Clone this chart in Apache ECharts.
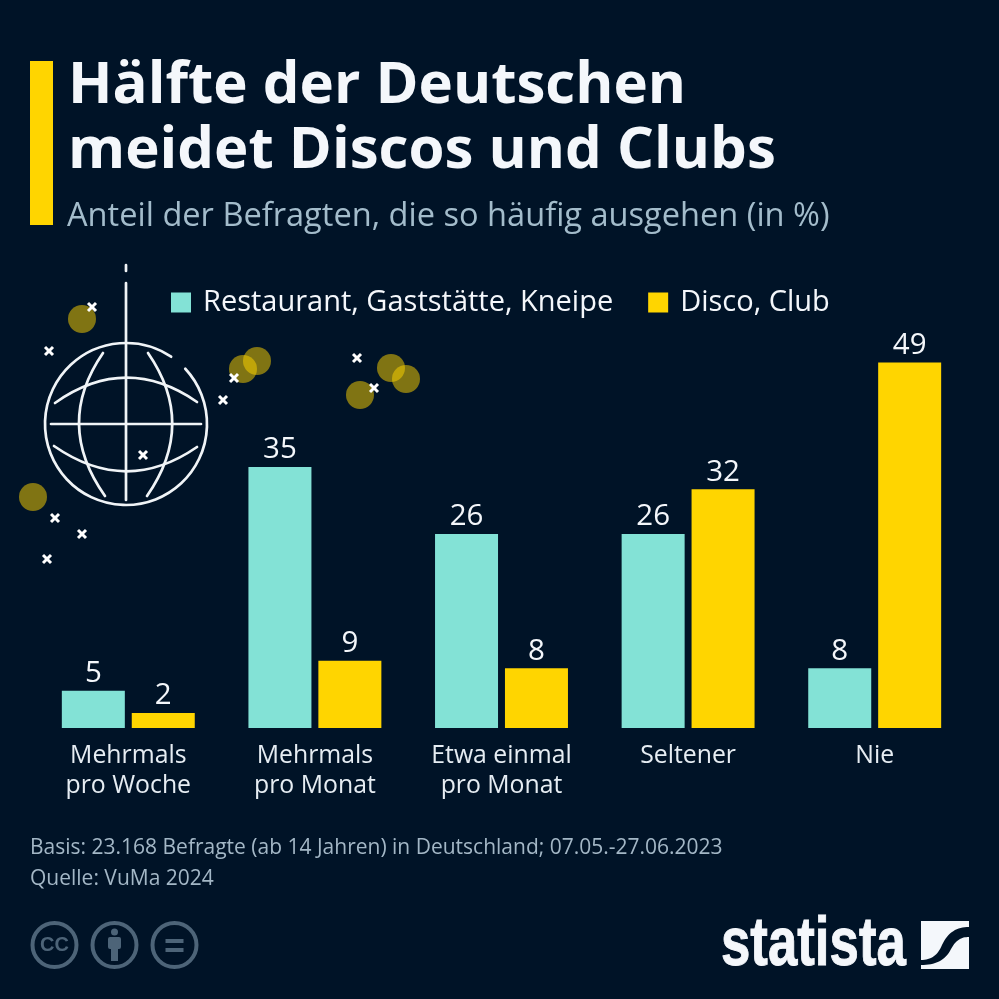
<!DOCTYPE html>
<html>
<head>
<meta charset="utf-8">
<script src="https://cdn.jsdelivr.net/npm/echarts@6/dist/echarts.min.js"></script>
<style>
html, body { margin: 0; padding: 0; background: #001327; }
#chart { width: 999px; height: 999px; }
</style>
</head>
<body>
<div id="chart"></div>
<script>
var categories = ['Mehrmals\npro Woche', 'Mehrmals\npro Monat', 'Etwa einmal\npro Monat', 'Seltener', 'Nie'];
var restaurant = [5, 35, 26, 26, 8];
var disco = [2, 9, 8, 32, 49];

var fontFamily = '"Open Sans", sans-serif';
var bg = '#001327';
var lineColor = '#f0f4f7';
var iconColor = '#4d6478';

// deko: lichtpunkte und sternchen um die discokugel
var glow = [[82, 319], [33, 497], [243, 369], [257, 361], [391, 368], [406, 379], [360, 395]];
var sparks = [[92, 307], [49, 351], [143, 455], [234, 378], [223, 400], [357, 358], [374, 388], [55, 518], [82, 534], [47, 559]];

function text(str, x, y, size, color, weight) {
    return {
        type: 'text', x: x, y: y,
        style: { text: str, fill: color, fontSize: size, fontFamily: fontFamily, fontWeight: weight || 'normal', textVerticalAlign: 'middle' }
    };
}
function stroke(type, shape) {
    return { type: type, shape: shape, style: { stroke: lineColor, lineWidth: 2.7, fill: null, lineCap: 'round' } };
}
// punkte einer kubischen kurve fuers logo
function cubic(p0, p1, p2, p3) {
    var pts = [];
    for (var i = 0; i <= 16; i++) {
        var t = i / 16, u = 1 - t;
        pts.push([
            u * u * u * p0[0] + 3 * u * u * t * p1[0] + 3 * u * t * t * p2[0] + t * t * t * p3[0],
            u * u * u * p0[1] + 3 * u * u * t * p1[1] + 3 * u * t * t * p2[1] + t * t * t * p3[1]
        ]);
    }
    return pts;
}

var graphics = [
    { type: 'rect', shape: { x: 30, y: 61, width: 23, height: 164 }, style: { fill: '#ffd500' } },
    text('Hälfte der Deutschen', 68, 86, 58.2, '#f4f7fb', 'bold'),
    text('meidet Discos und Clubs', 68, 151, 58.2, '#f4f7fb', 'bold'),
    text('Anteil der Befragten, die so häufig ausgehen (in %)', 67, 217, 32.6, '#a3bccb'),
    text('Basis: 23.168 Befragte (ab 14 Jahren) in Deutschland; 07.05.-27.06.2023', 30, 848, 21, '#a3b7c6'),
    text('Quelle: VuMa 2024', 30, 879, 21, '#a3b7c6')
];

glow.forEach(function (p) {
    graphics.push({ type: 'circle', shape: { cx: p[0], cy: p[1], r: 14 }, style: { fill: 'rgba(255,213,0,0.5)' } });
});

// kugel
graphics.push(
    stroke('line', { x1: 126, y1: 265, x2: 126, y2: 271 }),
    stroke('line', { x1: 126, y1: 283, x2: 126, y2: 500 }),
    stroke('line', { x1: 51, y1: 424, x2: 201, y2: 424 }),
    stroke('arc', { cx: 126, cy: 424, r: 81, startAngle: -0.75, endAngle: -0.98, clockwise: true }),
    stroke('bezierCurve', { x1: 55, y1: 403, cpx1: 126, cpy1: 353, x2: 197, y2: 402 }),
    stroke('bezierCurve', { x1: 54, y1: 446, cpx1: 126, cpy1: 496, x2: 197, y2: 447 }),
    stroke('bezierCurve', { x1: 103, y1: 353, cpx1: 54, cpy1: 424, x2: 105, y2: 496 }),
    stroke('bezierCurve', { x1: 148, y1: 353, cpx1: 197, cpy1: 424, x2: 147, y2: 496 })
);

sparks.forEach(function (p) {
    var d = 4;
    [[-d, -d, d, d], [-d, d, d, -d]].forEach(function (s) {
        graphics.push({
            type: 'line',
            shape: { x1: p[0] + s[0], y1: p[1] + s[1], x2: p[0] + s[2], y2: p[1] + s[3] },
            style: { stroke: '#ffffff', lineWidth: 3 }
        });
    });
});

// cc icons
[54.5, 114.5, 174.5].forEach(function (cx) {
    graphics.push({ type: 'circle', shape: { cx: cx, cy: 945, r: 22 }, style: { fill: null, stroke: iconColor, lineWidth: 4 } });
});
graphics.push(
    { type: 'text', x: 54.5, y: 945, style: { text: 'CC', fill: iconColor, fontSize: 20, fontWeight: 'bold', fontFamily: '"Liberation Sans", sans-serif', textAlign: 'center', textVerticalAlign: 'middle' } },
    { type: 'circle', shape: { cx: 114.5, cy: 932, r: 3.5 }, style: { fill: iconColor } },
    { type: 'rect', shape: { x: 108, y: 937, width: 13, height: 12, r: 2 }, style: { fill: iconColor } },
    { type: 'rect', shape: { x: 111, y: 945, width: 7, height: 16 }, style: { fill: iconColor } },
    { type: 'rect', shape: { x: 165.5, y: 939, width: 18, height: 4 }, style: { fill: iconColor } },
    { type: 'rect', shape: { x: 165.5, y: 948, width: 18, height: 4 }, style: { fill: iconColor } }
);

// logo
var band = cubic([969, 927], [957, 927], [948, 932], [942, 945])
    .concat(cubic([942, 945], [938, 955], [931, 960], [921, 960]))
    .concat(cubic([921, 965], [935, 965], [945, 961], [951, 949]))
    .concat(cubic([951, 949], [956, 940], [961, 937], [969, 937]));
graphics.push(
    {
        type: 'text', x: 721, y: 946, scaleX: 0.765,
        style: { text: 'statista', fill: '#f4f7fb', stroke: '#f4f7fb', lineWidth: 1, fontSize: 69, fontWeight: 'bold', fontFamily: '"Liberation Sans", sans-serif', textVerticalAlign: 'middle' }
    },
    { type: 'rect', shape: { x: 921, y: 921, width: 48, height: 48 }, style: { fill: '#f4f7fb' } },
    { type: 'polygon', shape: { points: band }, style: { fill: bg } }
);

var labelStyle = {
    show: true, position: 'top', distance: 2,
    color: '#f4f7fb', fontSize: 29.5, fontFamily: fontFamily
};

var chart = echarts.init(document.getElementById('chart'), null, { renderer: 'canvas' });
chart.setOption({
    animation: false,
    backgroundColor: bg,
    textStyle: { fontFamily: fontFamily },
    grid: { left: 35, right: 31, top: 355, bottom: 271, containLabel: false },
    legend: {
        left: 171, top: 288,
        padding: 0,
        itemWidth: 20, itemHeight: 20, itemGap: 35,
        icon: 'rect',
        selectedMode: false,
        textStyle: { color: '#f4f7fb', fontSize: 29, fontFamily: fontFamily, padding: [0, 0, 0, 7] }
    },
    xAxis: {
        type: 'category',
        data: categories,
        axisLine: { show: false },
        axisTick: { show: false },
        axisLabel: { color: '#e6edf3', fontSize: 24.8, lineHeight: 30, margin: 13, fontFamily: fontFamily, interval: 0 }
    },
    yAxis: { type: 'value', min: 0, max: 50, show: false, splitLine: { show: false } },
    series: [
        { name: 'Restaurant, Gaststätte, Kneipe', type: 'bar', data: restaurant, barWidth: 63, barGap: '11%', itemStyle: { color: '#83e2d6' }, label: labelStyle },
        { name: 'Disco, Club', type: 'bar', data: disco, barWidth: 63, itemStyle: { color: '#ffd500' }, label: labelStyle }
    ],
    graphic: { elements: graphics }
});
</script>
</body>
</html>
